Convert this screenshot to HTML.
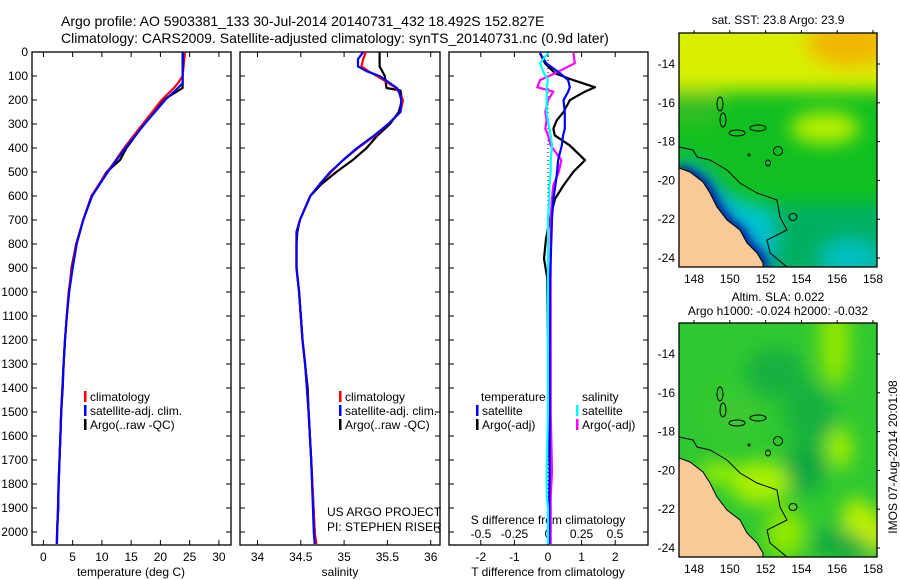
<!DOCTYPE html>
<html><head><meta charset="utf-8"><style>
body{margin:0;background:#fff}
svg{display:block;font-family:"Liberation Sans",sans-serif}
</style></head><body>
<svg id="c" width="900" height="580" viewBox="0 0 900 580" xmlns="http://www.w3.org/2000/svg">
<defs>
<filter id="bl" x="-20%" y="-20%" width="140%" height="140%"><feGaussianBlur stdDeviation="9"/></filter>
<filter id="bl2" x="-20%" y="-20%" width="140%" height="140%"><feGaussianBlur stdDeviation="4"/></filter>
<clipPath id="m1"><rect x="679" y="33" width="198" height="234"/></clipPath>
<clipPath id="m2"><rect x="679" y="323" width="198" height="234"/></clipPath>
<clipPath id="p1"><rect x="32" y="52" width="199" height="493"/></clipPath>
<clipPath id="p2"><rect x="240" y="52" width="200" height="493"/></clipPath>
<clipPath id="p3"><rect x="449" y="52" width="199" height="493"/></clipPath>
</defs>
<text x="61" y="26" font-size="14">Argo profile: AO 5903381_133 30-Jul-2014 20140731_432 18.492S 152.827E</text>
<text x="61" y="43" font-size="14">Climatology: CARS2009. Satellite-adjusted climatology: synTS_20140731.nc (0.9d later)</text>
<g id="g"></g>
</svg>
<script>
// ---- data ----
const tempDepth=[0,100,130,150,200,300,400,450,500,600,700,800,900,1000,1100,1200,1300,1400,1500,1600,1700,1800,1900,2000,2050];
const tempClim =[24.2,23.8,23.0,22.3,20.2,17.0,13.8,12.4,10.9,8.2,6.8,5.6,4.9,4.3,4.0,3.7,3.45,3.25,3.05,2.9,2.75,2.6,2.5,2.35,2.3];
const tempSat  =[23.9,23.8,23.8,23.0,20.8,17.3,14.0,12.5,11.0,8.3,6.8,5.7,5.0,4.4,4.0,3.7,3.45,3.25,3.05,2.9,2.75,2.6,2.5,2.35,2.3];
const tempArgo =[23.8,23.8,23.8,23.8,20.5,17.2,14.2,13.1,10.8,8.3,6.8,5.6,4.8,4.4,4.0,3.7,3.45,3.3,3.05,2.9,2.75,2.6,2.55,2.35,2.3];
const salDepth=[0,30,60,80,100,150,160,200,250,300,350,400,450,500,550,600,700,750,800,900,1000,1100,1200,1300,1400,1500,1700,2000,2050];
const salClim =[35.25,35.22,35.2,35.28,35.38,35.6,35.62,35.68,35.65,35.51,35.35,35.16,34.99,34.85,34.72,34.61,34.49,34.45,34.45,34.45,34.48,34.5,34.52,34.55,34.57,34.59,34.62,34.66,34.68];
const salSat  =[35.22,35.16,35.16,35.26,35.41,35.61,35.63,35.66,35.65,35.51,35.34,35.15,34.99,34.84,34.72,34.61,34.49,34.45,34.45,34.45,34.48,34.5,34.52,34.55,34.57,34.59,34.62,34.65,34.66];
const salArgo =[35.41,35.41,35.41,35.44,35.47,35.49,35.65,35.67,35.63,35.53,35.38,35.26,35.10,34.91,34.74,34.61,34.49,34.46,34.45,34.45,34.48,34.5,34.52,34.55,34.58,34.59,34.62,34.66,34.67];
const diffDepth=[4,47,89,117,147,165,201,250,285,319,347,389,451,500,556,611,694,778,861,944,1200,1500,1750,1850,1900,2050];
const dTArgo=[-0.24,-0.09,0.21,0.75,1.4,1.1,0.65,0.46,0.26,0.16,0.2,0.65,1.1,0.75,0.46,0.21,0.06,-0.06,-0.12,-0.02,0.0,0.02,0.05,0.06,0.03,0.03];
const dTSat =[-0.24,-0.05,0.36,0.6,0.65,0.6,0.46,0.5,0.5,0.5,0.45,0.41,0.3,0.27,0.22,0.16,0.12,0.1,0.08,0.06,0.05,0.05,0.05,0.04,0.04,0.04];
const dSArgo=[0.19,0.2,0.05,-0.06,-0.08,0.04,0.0,-0.02,-0.01,-0.02,0.0,0.02,0.1,0.08,0.04,0.03,0.02,0.02,0.02,0.02,0.02,0.02,0.03,0.02,0.02,0.02];
const dSSat =[0.0,-0.06,-0.03,0.0,-0.01,-0.01,-0.01,-0.01,0.0,0.01,0.02,0.03,0.02,0.02,0.01,0.01,0.0,0.0,0.0,0.0,0.0,0.0,-0.01,-0.01,0.0,0.0];
const depthTicks=[0,100,200,300,400,500,600,700,800,900,1000,1100,1200,1300,1400,1500,1600,1700,1800,1900,2000];
const tempTicks=[0,5,10,15,20,25,30];
const salTicks=[34,34.5,35,35.5,36];
const dTTicks=[-2,-1,0,1,2];
const dSTicks=[-0.5,-0.25,0,0.25,0.5];
const lonTicks=[148,150,152,154,156,158];
const latTicks=[-14,-16,-18,-20,-22,-24];
// ---- axes ----
const yD=d=>52+d*0.24;
const xT=t=>43.4+t*5.85;
const xS=s=>257.5+(s-34)*86.6;
const xDT=v=>548+v*33.6;
const xDS=v=>548+v*134;
const lonX=l=>694+(l-148)*17.9;
const latY=(l,top)=>top+31+(-14-l)*19.4;
const G=document.getElementById('g');
const NS='http://www.w3.org/2000/svg';
function mk(tag,attrs,parent){const e=document.createElementNS(NS,tag);for(const k in attrs)e.setAttribute(k,attrs[k]);(parent||G).appendChild(e);return e;}
function txt(x,y,s,size,anchor,parent){const e=mk('text',{x:x,y:y,'font-size':size||12,'text-anchor':anchor||'start'},parent);e.textContent=s;return e;}

const frames=[[32,231,'temperature-panel'],[240,440,'salinity-panel'],[449,648,'difference-panel']];
frames.forEach(f=>{
 const r=mk('rect',{x:f[0],y:52,width:f[1]-f[0],height:493,fill:'none',stroke:'#000','stroke-width':1.3});
 
 
 depthTicks.forEach(d=>{mk('line',{x1:f[0],x2:f[0]+5,y1:yD(d),y2:yD(d),stroke:'#000'});mk('line',{x1:f[1],x2:f[1]-5,y1:yD(d),y2:yD(d),stroke:'#000'});});
});
depthTicks.forEach(d=>{const t=txt(28,yD(d)+4,String(d),12,'end');
 
 });
function xt(ticks,fx){ticks.forEach(v=>{const x=fx(v);mk('line',{x1:x,x2:x,y1:545,y2:540,stroke:'#000'});mk('line',{x1:x,x2:x,y1:52,y2:57,stroke:'#000'});
 const t=txt(x,561,String(v),12,'middle');
 
 });}
xt(tempTicks,xT);xt(salTicks,xS);xt(dTTicks,xDT);
dSTicks.forEach(v=>{const t=txt(xDS(v),538,String(v),12,'middle');
 
 });
let t;
t=txt(131,576,'temperature (deg C)',12,'middle');
t=txt(340,576,'salinity',12,'middle');
t=txt(548,576,'T difference from climatology',12,'middle');
t=txt(548,524,'S difference from climatology',12,'middle');
t=txt(327,516,'US ARGO PROJECT',12);
t=txt(327,531,'PI: STEPHEN RISER',12);

function line(xs,ds,fx,col,clip,name,w){const p=ds.map((d,i)=>fx(xs[i]).toFixed(1)+','+yD(d).toFixed(1)).join(' ');
 const e=mk('polyline',{points:p,fill:'none',stroke:col,'stroke-width':w||2.2,'clip-path':'url(#'+clip+')','stroke-linejoin':'round'});
 
 }
line(tempArgo,tempDepth,xT,'#000','p1','temp-argo-line');
line(tempClim,tempDepth,xT,'#f00','p1','temp-climatology-line');
line(tempSat,tempDepth,xT,'#00f','p1','temp-satellite-line');
line(salArgo,salDepth,xS,'#000','p2','sal-argo-line');
line(salClim,salDepth,xS,'#f00','p2','sal-climatology-line');
line(salSat,salDepth,xS,'#00f','p2','sal-satellite-line');
mk('line',{x1:548,x2:548,y1:52,y2:545,stroke:'#000','stroke-dasharray':'1,3'});
line(dTArgo,diffDepth,xDT,'#000','p3','t-diff-argo-line');
line(dSArgo,diffDepth,xDS,'#f0f','p3','s-diff-argo-line');
line(dTSat,diffDepth,xDT,'#00f','p3','t-diff-satellite-line');
line(dSSat,diffDepth,xDS,'#0ff','p3','s-diff-satellite-line');

function leg(x,y,col,label,name){mk('rect',{x:x-6,y:y-10,width:2.5,height:11,fill:col});
 const e=txt(x,y,label,12);}
leg(90,401,'#f00','climatology','legend-climatology');
leg(90,415,'#00f','satellite-adj. clim.','legend-satellite-adj');
leg(90,429,'#000','Argo(..raw -QC)','legend-argo');
leg(345,401,'#f00','climatology','legend-climatology-sal');
leg(345,415,'#00f','satellite-adj. clim.','legend-satellite-adj-sal');
leg(345,429,'#000','Argo(..raw -QC)','legend-argo-sal');
t=txt(481,401,'temperature',12);
t=txt(582,401,'salinity',12);
leg(482,415,'#00f','satellite','legend-t-satellite');
leg(482,429,'#000','Argo(-adj)','legend-t-argo');
leg(582,415,'#0ff','satellite','legend-s-satellite');
leg(582,429,'#f0f','Argo(-adj)','legend-s-argo');

const coast=[[679,168],[690,172],[703,182],[710,193],[717,207],[727,220],[740,230],[747,243],[757,253],[763,263],[763,267]];
const shelf=[[679,147],[693,150],[697,157],[710,160],[727,170],[740,183],[757,193],[777,200],[780,217],[787,230],[767,240],[770,253],[787,267]];
function off(pts,dy){return pts.map(p=>p[0]+','+(p[1]+dy)).join(' ');}
function map(top,clip,name,sst){
 const g=mk('g',{'clip-path':'url(#'+clip+')'});
 
 
 const dy=top-33;
 if(sst){
  mk('rect',{x:679,y:top,width:198,height:234,fill:'#10c020'},g);
  const b=mk('g',{filter:'url(#bl)'},g);
  mk('rect',{x:660,y:top-20,width:240,height:78,fill:'#d8f000'},b);
  mk('ellipse',{cx:850,cy:top+10,rx:45,ry:25,fill:'#f0b800'},b);
  mk('ellipse',{cx:825,cy:top+95,rx:35,ry:16,fill:'#b8f000'},b);
  mk('rect',{x:660,y:top+62,width:60,height:30,fill:'#30c020'},b);
  mk('rect',{x:760,y:top+170,width:140,height:80,fill:'#00b060'},b);
  mk('ellipse',{cx:850,cy:top+225,rx:30,ry:18,fill:'#00c0c0'},b);
  mk('polygon',{points:off([[679,158],[700,165],[730,195],[770,210],[775,240],[770,270],[679,270]],dy),fill:'#00c8d0'},b);
  mk('polyline',{points:off(coast,dy+4),fill:'none',stroke:'#0030c0','stroke-width':16},b);
  mk('polyline',{points:off(coast,dy+2),fill:'none',stroke:'#001090','stroke-width':8,filter:'url(#bl2)'},g);
 } else {
  mk('rect',{x:679,y:top,width:198,height:234,fill:'#30c830'},g);
  const b=mk('g',{filter:'url(#bl)'},g);
  [[775,top+50,30,25,'#18b040'],[810,top+90,25,30,'#18b040'],[805,top+145,20,25,'#10a840'],[845,top+220,35,15,'#10a840'],
   [835,top+20,15,45,'#90e800'],[840,top+125,12,20,'#a8f000'],[857,top+195,15,20,'#b8f000'],[760,top+160,30,22,'#a8f000'],
   [785,top+210,20,25,'#90e800'],[718,top+150,20,10,'#a0f000'],[876,top+210,10,20,'#d0f000'],[735,top+90,20,20,'#40c830']
  ].forEach(e=>mk('ellipse',{cx:e[0],cy:e[1],rx:e[2],ry:e[3],fill:e[4]},b));
 }
 const land=mk('polygon',{points:off(coast.concat([[679,267]]),dy),fill:'#f9c998'},g);
 
 
 mk('polyline',{points:off(coast,dy),fill:'none',stroke:'#000','stroke-width':1},g);
 mk('polyline',{points:off(shelf,dy),fill:'none',stroke:'#000','stroke-width':1},g);
 mk('circle',{cx:778,cy:151+dy,r:4.5,fill:'none',stroke:'#000'},g);
 mk('ellipse',{cx:768,cy:163+dy,rx:2.5,ry:3,fill:'none',stroke:'#000'},g);
 mk('ellipse',{cx:793,cy:217+dy,rx:4,ry:3.5,fill:'none',stroke:'#000'},g);
 [[720,104,3,7],[723,120,3,7],[737,133,8,3],[758,128,8,3],[749,155,1,1]].forEach(r=>mk('ellipse',{cx:r[0],cy:r[1]+dy,rx:r[2],ry:r[3],fill:'none',stroke:'#000'},g));
 mk('rect',{x:679,y:top,width:198,height:234,fill:'none',stroke:'#000','stroke-width':1.3});
 lonTicks.forEach(l=>{const x=lonX(l);mk('line',{x1:x,x2:x,y1:top,y2:top-3,stroke:'#000'});
  const e=txt(x,top+250,String(l),12,'middle');});
 latTicks.forEach(l=>{const y=latY(l,top);mk('line',{x1:877,x2:880,y1:y,y2:y,stroke:'#000'});
  const e=txt(675,y+4,String(l),12,'end');});
}
map(33,'m1','sst-map',true);
map(323,'m2','sla-map',false);
t=txt(778,24,'sat. SST: 23.8 Argo: 23.9',12,'middle');
t=txt(778,301,'Altim. SLA: 0.022',12,'middle');
t=txt(778,315,'Argo h1000: -0.024 h2000: -0.032',12,'middle');
t=txt(0,0,'IMOS 07-Aug-2014 20:01:08',12,'middle');t.setAttribute('transform','translate(897,457) rotate(-90)');

</script>
</body></html>
